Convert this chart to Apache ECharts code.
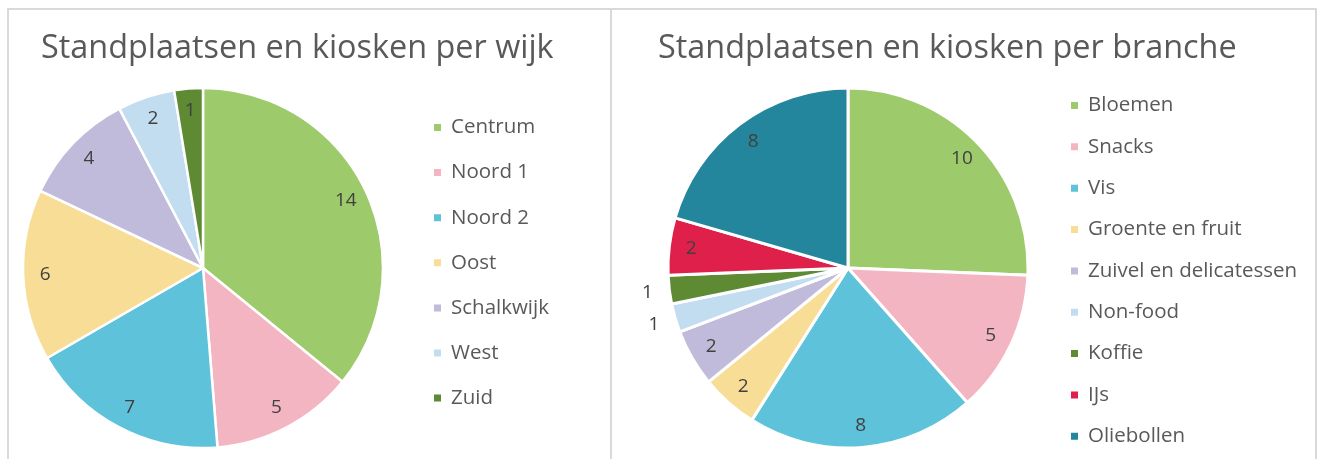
<!DOCTYPE html>
<html>
<head>
<meta charset="utf-8">
<script src="https://cdn.jsdelivr.net/npm/echarts@6/dist/echarts.min.js"></script>
<style>
html,body{margin:0;padding:0;background:#fff;}
#c{width:1320px;height:459px;}
</style>
</head>
<body>
<div id="c"></div>
<script>
var wijkNames = ['Centrum','Noord 1','Noord 2','Oost','Schalkwijk','West','Zuid'];
var wijkValues = [14,5,7,6,4,2,1];
var wijkColors = ['#9DCA6B','#F4B5C2','#5EC3DA','#F8DD97','#C0BBDA','#C2DDEF','#5E8A33'];

var brancheNames = ['Bloemen','Snacks','Vis','Groente en fruit','Zuivel en delicatessen','Non-food','Koffie','IJs','Oliebollen'];
var brancheValues = [10,5,8,2,2,1,1,2,8];
var brancheColors = ['#9DCA6B','#F4B5C2','#5EC3DA','#F8DD97','#C0BBDA','#C2DDEF','#5E8A33','#DE204A','#24869C'];
var brancheOutside = ['Non-food','Koffie'];

var titles = ['Standplaatsen en kiosken per wijk','Standplaatsen en kiosken per branche'];

var FONT = '"Open Sans", sans-serif';
var labelStyle = {color:'#404040', fontSize:19, fontFamily:FONT};

function items(names, values, colors){
  return names.map(function(n,i){return {name:n, value:values[i], itemStyle:{color:colors[i]}};});
}
function overlay(names, values, show){
  return names.map(function(n,i){return {name:n, value:values[i], label:{show:show(n)}};});
}

var chart = echarts.init(document.getElementById('c'));
var ringBase = {
  type:'pie', silent:true, clockwise:true, startAngle:90,
  itemStyle:{color:'rgba(0,0,0,0)', borderWidth:0},
  label:Object.assign({position:'inside', formatter:'{c}'}, labelStyle),
  labelLine:{show:false}, emphasis:{disabled:true}, legendHoverLink:false
};
var legendText = {color:'#595959', fontSize:20.5, lineHeight:20, fontFamily:FONT, padding:[0,0,0,4]};
chart.setOption({
  animation:false,
  backgroundColor:'#fff',
  graphic:[
    {type:'rect', shape:{x:8,y:9,width:603,height:470}, style:{fill:'none',stroke:'#d9d9d9',lineWidth:2}, silent:true},
    {type:'rect', shape:{x:611,y:9,width:705,height:470}, style:{fill:'none',stroke:'#d9d9d9',lineWidth:2}, silent:true}
  ],
  title:[
    {text:titles[0], left:36, top:28, textStyle:{color:'#595959', fontSize:32.4, fontWeight:'normal', fontFamily:FONT}},
    {text:titles[1], left:653, top:28, textStyle:{color:'#595959', fontSize:32.4, fontWeight:'normal', fontFamily:FONT}}
  ],
  legend:[
    {data:wijkNames, orient:'vertical', left:432, top:117, padding:0, icon:'rect', itemWidth:9, itemHeight:9, itemGap:24.1,
     selectedMode:false, textStyle:legendText},
    {data:brancheNames, orient:'vertical', left:1069, top:95, padding:0, icon:'rect', itemWidth:9, itemHeight:9, itemGap:20.35,
     selectedMode:false, textStyle:legendText}
  ],
  series:[
    {type:'pie', center:[203,268], radius:[0,180], startAngle:90, clockwise:true,
     data:items(wijkNames, wijkValues, wijkColors),
     itemStyle:{borderColor:'#fff', borderWidth:2.5}, label:{show:false}, labelLine:{show:false}, emphasis:{disabled:true}},
    Object.assign({}, ringBase, {center:[203,268], radius:[130,180],
      data:overlay(wijkNames, wijkValues, function(){return true;})}),
    {type:'pie', center:[848,268], radius:[0,180], startAngle:90, clockwise:true,
     data:items(brancheNames, brancheValues, brancheColors),
     itemStyle:{borderColor:'#fff', borderWidth:3}, label:{show:false}, labelLine:{show:false}, emphasis:{disabled:true}},
    Object.assign({}, ringBase, {center:[848,268], radius:[130,180],
      data:overlay(brancheNames, brancheValues, function(n){return brancheOutside.indexOf(n)<0;})}),
    Object.assign({}, ringBase, {center:[848,268], radius:[182,216],
      data:overlay(brancheNames, brancheValues, function(n){return brancheOutside.indexOf(n)>=0;})})
  ]
});
</script>
</body>
</html>
